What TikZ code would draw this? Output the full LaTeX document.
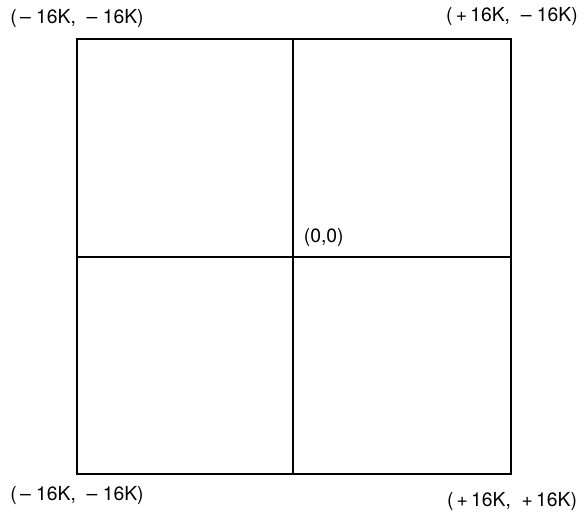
\documentclass[tikz,border=0pt]{standalone}
\usepackage{fontspec}
\setmainfont{TeX Gyre Heros}
\usepackage{tikz}
\usetikzlibrary{positioning, calc}

\begin{document}
\begin{tikzpicture}[
    x=0.02cm, y=-0.02cm,
    edge/.style={draw, line width=1.1pt},
    corner/.style={font=\fontsize{11}{13}\selectfont, inner sep=0pt}
]
\useasboundingbox (0,0) rectangle (586,512);
% outer square and centre lines
\coordinate (nw) at (77,39);
\coordinate (ne) at (511,39);
\coordinate (sw) at (77,474);
\coordinate (se) at (511,474);
\coordinate (top) at (293,39);
\coordinate (bot) at (293,474);
\coordinate (lft) at (77,257);
\coordinate (rgt) at (511,257);
\coordinate (origin) at (293,257);
\draw[edge] (nw) -- (ne) -- (se) -- (sw) -- cycle;
\draw[edge] (top) -- (bot);
\draw[edge] (lft) -- (rgt);
% corner labels
\node[corner] (lbl-nw) at (77,18) {(\,\textendash\ 16K, \ \textendash\ 16K)};
\node[corner] (lbl-ne) at (512,16) {(\,+\,16K, \ \textendash\ 16K)};
\node[corner] (lbl-sw) at (77,495) {(\,\textendash\ 16K, \ \textendash\ 16K)};
\node[corner] (lbl-se) at (512,501) {(\,+\,16K, \ +\,16K)};
\node[corner, above right=6pt and 6pt of origin] (lbl-o) {(0,0)};
\end{tikzpicture}
\end{document}
